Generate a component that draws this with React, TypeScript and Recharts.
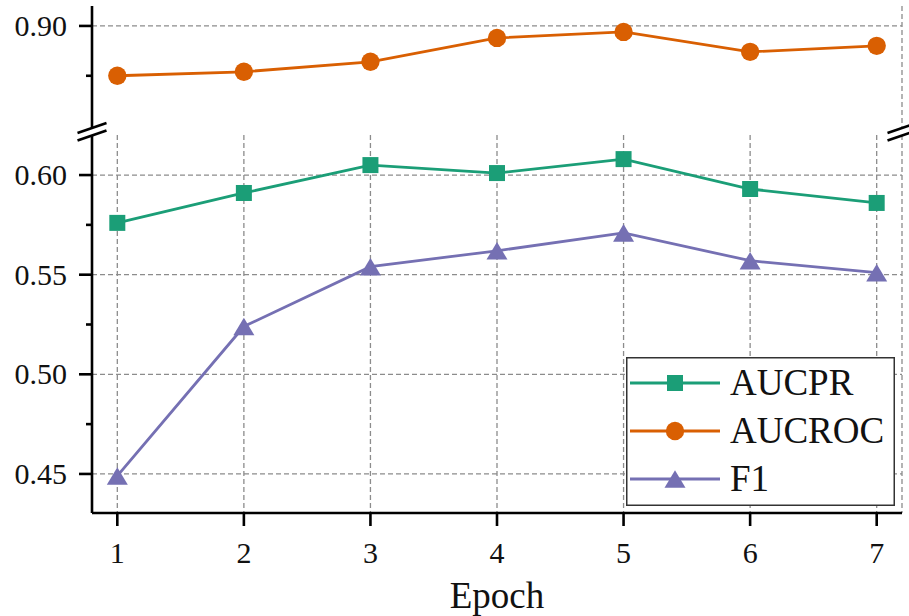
import React from 'react';
import { LineChart, Line, XAxis, YAxis, CartesianGrid, Legend } from 'recharts';

// ---------- data ----------
const EPOCHS = [1, 2, 3, 4, 5, 6, 7];
const AUCPR = [0.576, 0.591, 0.605, 0.601, 0.608, 0.593, 0.586];
const AUCROC = [0.875, 0.877, 0.882, 0.894, 0.897, 0.887, 0.89];
const F1 = [0.449, 0.524, 0.554, 0.562, 0.571, 0.557, 0.551];

const TOP_MAJOR = [0.9];
const TOP_MINOR = [0.875];
const BOTTOM_MAJOR = [0.45, 0.5, 0.55, 0.6];
const BOTTOM_MINOR = [0.475, 0.525, 0.575];
const X_TICKS = EPOCHS;

const TOP_DOMAIN: [number, number] = [0.8488, 0.91];
const BOTTOM_DOMAIN: [number, number] = [0.4304, 0.6201];
const X_DOMAIN: [number, number] = [0.8, 7.2];

const SERIES = [
  { name: 'AUCPR', color: '#1b9e77', shape: 'square' },
  { name: 'AUCROC', color: '#d95f02', shape: 'circle' },
  { name: 'F1', color: '#7570b3', shape: 'triangle' },
];

const data = EPOCHS.map((e, i) => ({ epoch: e, AUCPR: AUCPR[i], AUCROC: AUCROC[i], F1: F1[i] }));

// ---------- style ----------
const W = 909;
const H = 616;
const FONT = '"Liberation Serif", "Times New Roman", serif';
const AXIS_W = 2.6;
const LINE_W = 2.8;
const GRID = '#8c8c8c';
const TICK_SIZE = 13;
const TICK_MARGIN = 12;

const colorOf = (n: string) => SERIES.find((s) => s.name === n)!.color;

function Marker({ shape, cx, cy, color }: { shape: string; cx: number; cy: number; color: string }) {
  if (shape === 'square') return <rect x={cx - 8} y={cy - 8} width={16} height={16} fill={color} />;
  if (shape === 'circle') return <circle cx={cx} cy={cy} r={9.2} fill={color} />;
  return (
    <polygon
      points={`${cx},${cy - 8.8} ${cx - 10.5},${cy + 8.8} ${cx + 10.5},${cy + 8.8}`}
      fill={color}
    />
  );
}

const makeDot = (shape: string, color: string) => (props: any) => {
  const { cx, cy, index } = props;
  if (cx == null || cy == null) return <g key={`d-${shape}-${index}`} />;
  return (
    <g key={`d-${shape}-${index}`}>
      <Marker shape={shape} cx={cx} cy={cy} color={color} />
    </g>
  );
};

const textStyle = { fontFamily: FONT };

const makeYTick = (major: number[]) => (props: any) => {
  const { x, y, payload } = props;
  const axisX = x + TICK_SIZE + TICK_MARGIN;
  const isMajor = major.some((m) => Math.abs(m - payload.value) < 1e-9);
  return (
    <g>
      <line x1={axisX - (isMajor ? 13 : 6)} x2={axisX} y1={y} y2={y} stroke="#000" strokeWidth={AXIS_W} />
      {isMajor && (
        <text x={x} y={y + 10} textAnchor="end" style={textStyle} fontFamily={FONT} fontSize={30} fill="#111">
          {Number(payload.value).toFixed(2)}
        </text>
      )}
    </g>
  );
};

const XTick = (props: any) => {
  const { x, y, payload } = props;
  const axisY = y - TICK_SIZE - TICK_MARGIN;
  return (
    <g>
      <line x1={x} x2={x} y1={axisY} y2={axisY + 13} stroke="#000" strokeWidth={AXIS_W} />
      <text x={x} y={y + 25} textAnchor="middle" style={textStyle} fontFamily={FONT} fontSize={30} fill="#111">
        {payload.value}
      </text>
    </g>
  );
};

const LegendBox = () => (
  <svg width={269} height={149} style={{ display: 'block' }}>
    <rect x={0.75} y={0.75} width={267.5} height={147.5} fill="#fff" stroke="#333" strokeWidth={1.5} />
    {SERIES.map((s, i) => {
      const cy = 26 + i * 48;
      return (
        <g key={s.name}>
          <line x1={4} x2={94} y1={cy} y2={cy} stroke={s.color} strokeWidth={LINE_W} />
          <Marker shape={s.shape} cx={49} cy={cy} color={s.color} />
          <text x={104} y={cy + 12} style={textStyle} fontFamily={FONT} fontSize={37} fill="#111">
            {s.name}
          </text>
        </g>
      );
    })}
  </svg>
);

function BreakMarks() {
  const marks = [92, 902];
  return (
    <svg width={W} height={H} style={{ position: 'absolute', left: 0, top: 0, pointerEvents: 'none' }}>
      {marks.map((cx) => (
        <g key={cx} stroke="#000" strokeWidth={AXIS_W}>
          <line x1={cx - 14.5} y1={133} x2={cx + 14.5} y2={123} />
          <line x1={cx - 14.5} y1={140.5} x2={cx + 14.5} y2={130.5} />
        </g>
      ))}
    </svg>
  );
}

export default function App() {
  const axisLine = { stroke: '#000', strokeWidth: AXIS_W };
  return (
    <div style={{ position: 'absolute', left: 0, top: 0, width: W, height: H, background: '#fff', fontFamily: FONT }}>
      {/* upper panel */}
      <div style={{ position: 'absolute', left: 0, top: 0 }}>
        <LineChart width={W} height={H} data={data} margin={{ top: 6, right: 7, bottom: H - 128, left: 0 }}>
          <CartesianGrid stroke={GRID} strokeWidth={1.3} strokeDasharray="5 3" horizontalValues={TOP_MAJOR} />
          <XAxis
            dataKey="epoch"
            type="number"
            orientation="top"
            height={0}
            domain={X_DOMAIN}
            ticks={X_TICKS}
            interval={0}
            allowDataOverflow
            tick={false}
            tickLine={false}
            axisLine={axisLine}
          />
          <YAxis
            type="number"
            width={92}
            domain={TOP_DOMAIN}
            allowDataOverflow
            ticks={[...TOP_MINOR, ...TOP_MAJOR]}
            interval={0}
            tickSize={TICK_SIZE}
            tickMargin={TICK_MARGIN}
            tickLine={false}
            tick={makeYTick(TOP_MAJOR)}
            axisLine={axisLine}
          />
          <YAxis yAxisId="r" orientation="right" width={0} domain={TOP_DOMAIN} allowDataOverflow tick={false} tickLine={false} axisLine={axisLine} />
          <Line
            dataKey="AUCROC"
            stroke={colorOf('AUCROC')}
            strokeWidth={LINE_W}
            dot={makeDot('circle', colorOf('AUCROC'))}
            activeDot={false}
            isAnimationActive={false}
          />
        </LineChart>
      </div>
      {/* lower panel */}
      <div style={{ position: 'absolute', left: 0, top: 0 }}>
        <LineChart width={W} height={H} data={data} margin={{ top: 135, right: 7, bottom: 0, left: 0 }}>
          <CartesianGrid stroke={GRID} strokeWidth={1.3} strokeDasharray="5 3" horizontalValues={BOTTOM_MAJOR} />
          <XAxis
            dataKey="epoch"
            type="number"
            height={103}
            domain={X_DOMAIN}
            ticks={X_TICKS}
            interval={0}
            allowDataOverflow
            tickSize={TICK_SIZE}
            tickMargin={TICK_MARGIN}
            tickLine={false}
            tick={XTick}
            axisLine={axisLine}
            label={{ value: 'Epoch', position: 'insideBottom', offset: 8, fontFamily: FONT, fontSize: 37, fill: '#111' }}
          />
          <YAxis
            type="number"
            width={92}
            domain={BOTTOM_DOMAIN}
            allowDataOverflow
            ticks={[...BOTTOM_MAJOR, ...BOTTOM_MINOR].sort()}
            interval={0}
            tickSize={TICK_SIZE}
            tickMargin={TICK_MARGIN}
            tickLine={false}
            tick={makeYTick(BOTTOM_MAJOR)}
            axisLine={axisLine}
          />
          <YAxis yAxisId="r" orientation="right" width={0} domain={BOTTOM_DOMAIN} allowDataOverflow tick={false} tickLine={false} axisLine={axisLine} />
          <Line
            dataKey="AUCPR"
            stroke={colorOf('AUCPR')}
            strokeWidth={LINE_W}
            dot={makeDot('square', colorOf('AUCPR'))}
            activeDot={false}
            isAnimationActive={false}
          />
          <Line
            dataKey="F1"
            stroke={colorOf('F1')}
            strokeWidth={LINE_W}
            dot={makeDot('triangle', colorOf('F1'))}
            activeDot={false}
            isAnimationActive={false}
          />
          <Legend
            content={LegendBox}
            layout="vertical"
            align="center"
            verticalAlign="middle"
            wrapperStyle={{ left: 626, top: 357, width: 269, height: 149 }}
          />
        </LineChart>
      </div>
      <BreakMarks />
    </div>
  );
}
